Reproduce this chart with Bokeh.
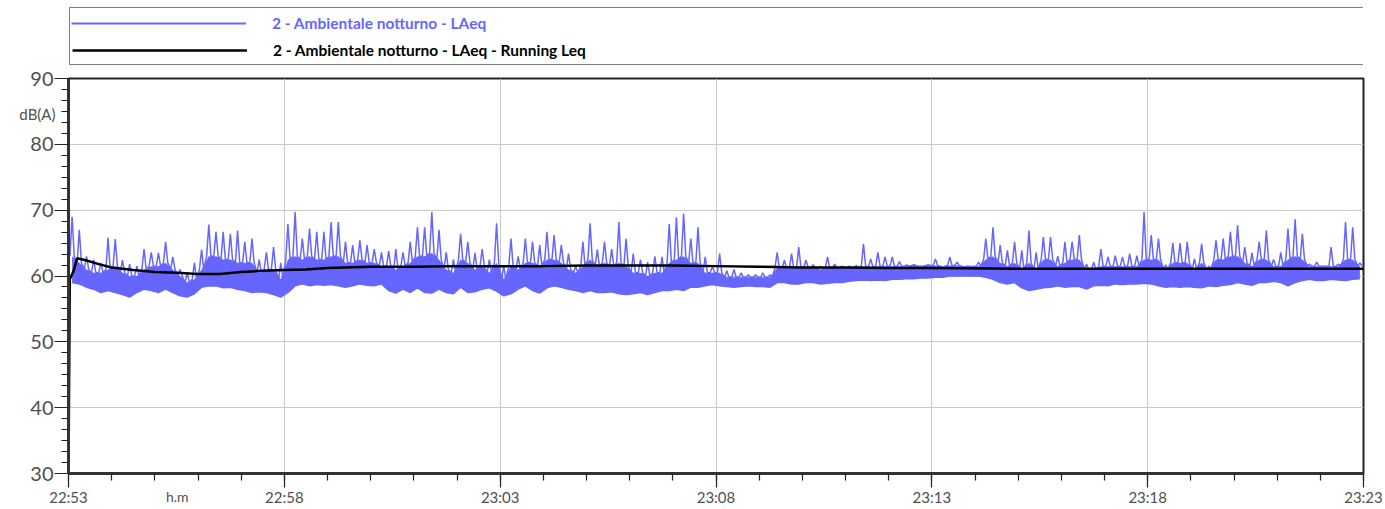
from bokeh.plotting import figure
from bokeh.models import (Range1d, SingleIntervalTicker, FixedTicker, LinearAxis,
                          Legend, LegendItem, GridBox)
from bokeh.embed import file_html
from bokeh.resources import INLINE

# ---------------- data ----------------
tick_labels = ["22:53", "22:58", "23:03", "23:08", "23:13", "23:18", "23:23"]
bin_seconds = 10  # one value per 10 s slice

# highest spike in each slice
peak = [
    69.0, 67.0, 63.0, 62.5, 62.0, 65.8,
    65.6, 62.4, 61.8, 61.5, 64.1, 63.6,
    63.5, 65.2, 62.9, 61.0, 60.5, 62.0,
    64.0, 67.8, 66.7, 66.7, 66.4, 66.9,
    65.2, 65.7, 62.5, 63.6, 64.4, 62.0,
    67.9, 69.7, 65.7, 67.2, 66.7, 66.7,
    68.2, 68.2, 65.2, 64.7, 65.4, 64.7,
    64.1, 63.6, 63.8, 64.1, 63.6, 65.2,
    67.4, 67.4, 69.7, 67.0, 63.6, 62.5,
    66.4, 65.2, 63.5, 64.1, 62.5, 68.0,
    61.5, 65.7, 63.0, 65.7, 65.2, 64.7,
    66.7, 66.2, 64.7, 63.4, 61.5, 65.2,
    68.0, 64.0, 65.2, 64.1, 68.2, 65.7,
    63.4, 62.5, 62.1, 63.0, 62.9, 67.9,
    68.9, 69.5, 65.7, 67.4, 62.9, 61.5,
    63.4, 60.8, 61.0, 60.5, 60.2, 60.2,
    60.5, 60.2, 63.6, 62.4, 63.4, 64.4,
    62.4, 61.7, 61.5, 62.9, 61.8, 61.5,
    61.5, 61.6, 64.9, 62.6, 63.6, 62.9,
    62.9, 62.2, 61.7, 61.7, 61.5, 61.7,
    62.6, 61.3, 62.9, 62.1, 61.3, 61.4,
    62.1, 65.7, 67.4, 64.7, 63.9, 65.2,
    63.9, 66.9, 63.6, 65.9, 65.9, 63.0,
    65.2, 65.2, 66.2, 61.8, 62.1, 64.1,
    62.9, 63.1, 62.9, 63.4, 63.1, 69.7,
    66.2, 65.7, 61.7, 65.0, 65.0, 65.2,
    62.6, 64.9, 61.5, 65.4, 65.7, 66.7,
    67.7, 64.4, 63.5, 65.2, 66.9, 62.5,
    63.6, 67.2, 68.6, 66.4, 61.8, 62.1,
    61.5, 64.4, 61.8, 68.2, 67.4, 62.0,
]

# top of the dense part of the trace in each slice
body = [
    63.0, 62.0, 61.0, 60.5, 60.5, 61.0,
    61.5, 60.5, 60.0, 60.0, 61.0, 61.5,
    61.5, 62.0, 61.0, 60.0, 59.0, 59.5,
    61.0, 63.0, 63.0, 62.5, 62.5, 62.0,
    62.0, 62.0, 60.5, 61.0, 61.0, 59.5,
    62.5, 63.0, 62.5, 63.0, 62.5, 62.5,
    63.0, 63.0, 62.0, 62.0, 62.5, 62.0,
    62.0, 61.5, 61.5, 61.0, 61.5, 62.0,
    63.0, 63.0, 63.5, 62.5, 61.0, 60.5,
    62.5, 62.0, 61.0, 61.5, 60.5, 62.0,
    59.5, 61.5, 61.0, 62.0, 62.0, 61.5,
    62.5, 62.5, 62.0, 61.0, 60.5, 61.5,
    62.5, 61.5, 62.0, 61.5, 62.0, 61.5,
    60.5, 60.5, 60.0, 60.5, 60.5, 62.0,
    62.5, 63.0, 62.0, 62.0, 60.5, 60.5,
    60.5, 59.8, 59.8, 59.8, 59.8, 59.8,
    59.8, 59.8, 61.2, 61.2, 61.2, 61.3,
    61.3, 61.3, 61.0, 61.2, 61.2, 61.2,
    61.3, 61.3, 61.5, 61.4, 61.5, 61.5,
    61.5, 61.5, 61.5, 61.6, 61.5, 61.6,
    61.6, 61.5, 61.6, 61.6, 61.5, 61.5,
    61.5, 62.5, 63.0, 62.0, 61.5, 62.0,
    61.0, 62.0, 61.0, 62.5, 62.5, 61.5,
    62.0, 62.5, 62.5, 61.0, 61.0, 61.5,
    61.5, 61.5, 61.5, 61.5, 61.5, 62.5,
    62.5, 62.5, 61.0, 62.0, 62.0, 62.0,
    61.0, 62.0, 61.0, 62.5, 62.5, 63.0,
    63.0, 62.0, 61.5, 62.5, 62.5, 61.5,
    61.5, 62.5, 63.0, 62.5, 61.5, 61.5,
    61.5, 61.5, 61.5, 62.5, 62.5, 61.5,
]

# lowest value in each slice
floor = [
    59.0, 58.8, 58.3, 58.0, 57.5, 57.8,
    57.5, 57.2, 56.8, 57.5, 58.0, 57.8,
    57.5, 58.0, 57.5, 57.0, 56.8, 57.3,
    58.3, 58.5, 58.5, 58.2, 58.3, 58.0,
    57.8, 57.5, 57.6, 57.5, 57.2, 56.8,
    57.5, 58.5, 58.8, 58.5, 58.7, 58.6,
    58.7, 58.5, 58.3, 58.5, 58.8, 58.6,
    58.5, 58.8, 57.8, 57.4, 58.0, 57.5,
    58.2, 57.5, 57.4, 58.0, 57.5, 57.3,
    58.3, 57.5, 57.6, 58.0, 58.2, 57.7,
    57.0, 57.3, 58.0, 58.5, 57.8, 57.4,
    58.2, 58.5, 58.3, 58.0, 57.8, 57.5,
    57.8, 57.5, 57.5, 57.6, 57.3, 57.2,
    57.3, 57.5, 57.2, 57.5, 57.8, 57.8,
    58.0, 57.8, 58.3, 58.3, 58.5, 58.7,
    58.5, 58.4, 58.3, 58.4, 58.5, 58.4,
    58.4, 58.3, 59.0, 59.0, 58.8, 58.8,
    59.0, 59.0, 58.8, 58.9, 59.0, 59.0,
    59.2, 59.3, 59.4, 59.3, 59.4, 59.3,
    59.5, 59.5, 59.6, 59.6, 59.7, 59.7,
    59.8, 59.8, 60.0, 60.0, 60.0, 60.0,
    60.0, 59.8, 59.5, 59.0, 58.8, 59.0,
    58.2, 57.8, 58.0, 58.2, 58.3, 58.5,
    58.3, 58.4, 58.4, 58.0, 58.5, 58.6,
    58.5, 58.8, 58.7, 58.8, 58.8, 58.9,
    58.8, 58.5, 58.3, 58.4, 58.3, 58.4,
    58.3, 58.2, 58.5, 58.4, 58.6, 58.7,
    59.0, 58.8, 58.6, 59.0, 59.0, 59.2,
    59.0, 58.5, 59.0, 59.3, 59.5, 59.3,
    59.3, 59.5, 59.4, 59.3, 59.5, 59.6,
]

leq_minutes = [0, 0.03, 0.12, 0.2, 0.4, 0.7, 1.0, 1.5, 2.0, 2.5, 3.0, 3.5, 4.0, 4.5,
               5.0, 5.5, 6.0, 7, 8, 9, 10, 11, 12, 13, 14, 15, 16, 17, 18, 19, 20,
               22, 24, 26, 28, 30]
leq_values = [30, 59.5, 60.8, 62.7, 62.4, 61.8, 61.3, 60.9, 60.6, 60.5, 60.3, 60.3,
              60.6, 60.8, 60.9, 61.0, 61.2, 61.4, 61.4, 61.5, 61.5, 61.5, 61.6, 61.6,
              61.6, 61.5, 61.4, 61.3, 61.3, 61.2, 61.2, 61.1, 61.1, 61.1, 61.1, 61.1]

series_names = ["2 - Ambientale notturno - LAeq",
                "2 - Ambientale notturno - LAeq - Running Leq"]
y_unit = "dB(A)"
y_unit_at = 84.6
x_unit = "h.m"
x_unit_at = 2.52

# ---------------- build ----------------
BLUE = "#6666ff"
TXT = "#505050"
band_x = [(i + 0.5) * bin_seconds / 60.0 for i in range(len(floor))]

spike_x, spike_y = [], []
for i, (b, hi) in enumerate(zip(body, peak)):
    t0 = i * bin_seconds / 60.0
    spike_x += [t0 + 2 / 60.0, t0 + 5 / 60.0, t0 + 8 / 60.0]
    spike_y += [b, hi, b]

W = 1385
LEFT, RIGHT = 68, 22
TOP, BOTTOM = 12, 32
FRAME_H = 398
H = TOP + FRAME_H + BOTTOM
frame_w = W - LEFT - RIGHT

# ---------------- main plot ----------------
p = figure(width=W, height=H, x_range=Range1d(0, 30), y_range=Range1d(30, 90),
           output_backend="svg", toolbar_location=None,
           min_border_left=LEFT, min_border_right=RIGHT,
           min_border_top=TOP, min_border_bottom=BOTTOM,
           background_fill_color="white", border_fill_color="white")

xt = SingleIntervalTicker(interval=5, num_minor_ticks=5)
yt = SingleIntervalTicker(interval=10, num_minor_ticks=6)
p.xaxis[0].ticker = xt
p.yaxis[0].ticker = yt
p.xgrid[0].ticker = xt
p.ygrid[0].ticker = yt
for g in (p.xgrid[0], p.ygrid[0]):
    g.grid_line_color = "#c8c8c8"
    g.grid_line_width = 1

p.xaxis[0].major_label_overrides = {i * 5: lab for i, lab in enumerate(tick_labels)}

for ax in (p.xaxis[0], p.yaxis[0]):
    ax.axis_line_color = "#333333"
    ax.axis_line_width = 3
    ax.major_tick_in = 0
    ax.minor_tick_in = 0
    ax.major_tick_line_color = "#222222"
    ax.minor_tick_line_color = "#222222"
    ax.major_tick_line_width = 1.2
    ax.minor_tick_line_width = 1.2
    ax.major_label_text_font = "Lato"
    ax.major_label_text_color = TXT

p.xaxis[0].major_tick_out = 14
p.xaxis[0].minor_tick_out = 7
p.xaxis[0].major_label_text_font_size = "15px"
p.xaxis[0].major_label_standoff = 0
p.yaxis[0].major_tick_out = 14
p.yaxis[0].minor_tick_out = 7
p.yaxis[0].major_label_text_font_size = "20px"
p.yaxis[0].major_label_standoff = 1

p.outline_line_color = "#222222"
p.outline_line_width = 2

p.varea(x=band_x, y1=floor, y2=body, fill_color=BLUE)
p.line(band_x, floor, line_color=BLUE, line_width=1.5)
p.line(spike_x, spike_y, line_color=BLUE, line_width=1.5)
p.line(leq_minutes, leq_values, line_color="black", line_width=2.5)

# ---------- transparent overlay with the same frame: unit labels ----------
ov = figure(width=W, height=H, x_range=p.x_range, y_range=p.y_range,
            output_backend="svg", toolbar_location=None, title=None,
            x_axis_location=None, y_axis_location=None,
            min_border_left=LEFT, min_border_right=RIGHT,
            min_border_top=TOP, min_border_bottom=BOTTOM,
            background_fill_alpha=0, border_fill_alpha=0, outline_line_color=None)
ov.grid.visible = False

y_unit_axis = LinearAxis(ticker=FixedTicker(ticks=[y_unit_at]),
                         major_label_overrides={y_unit_at: y_unit},
                         axis_line_color=None, major_tick_line_color=None,
                         minor_tick_line_color=None, major_tick_out=0, major_tick_in=0,
                         major_label_standoff=13, major_label_text_font="Lato",
                         major_label_text_font_size="15px", major_label_text_color=TXT)
ov.add_layout(y_unit_axis, "left")
x_unit_axis = LinearAxis(ticker=FixedTicker(ticks=[x_unit_at]),
                         major_label_overrides={x_unit_at: x_unit},
                         axis_line_color=None, major_tick_line_color=None,
                         minor_tick_line_color=None, major_tick_out=0, major_tick_in=0,
                         major_label_standoff=14, major_label_text_font="Lato",
                         major_label_text_font_size="14px", major_label_text_color=TXT)
ov.add_layout(x_unit_axis, "below")

# ---------------- legend strip ----------------
PAD, SP, ROW, GW, STAND = 2, 4, 24, 175, 26
label_w = frame_w - 2 * PAD - GW - STAND - 2
leg_h = 2 * PAD + 2 * ROW + SP
LG_TOP, LG_BOTTOM = 4, 0
LG_FRAME = leg_h + 6
lg = figure(width=W, height=LG_TOP + LG_FRAME + LG_BOTTOM,
            x_range=Range1d(0, 1), y_range=Range1d(0, 1),
            output_backend="svg", toolbar_location=None, title=None,
            x_axis_location=None, y_axis_location=None,
            min_border_left=LEFT, min_border_right=RIGHT,
            min_border_top=LG_TOP, min_border_bottom=LG_BOTTOM,
            background_fill_color="white", border_fill_color="white",
            outline_line_color=None)
lg.grid.visible = False
# sample glyphs for the legend (their data lies outside this strip's ranges)
leg_blue = lg.line(band_x, floor, line_color=BLUE, line_width=2)
leg_black = lg.line(leq_minutes, leq_values, line_color="black", line_width=2.5)

leg1 = Legend(items=[LegendItem(label=series_names[0], renderers=[leg_blue]),
                     LegendItem(label=series_names[1], renderers=[leg_black])],
              location=(1, 1), margin=0, padding=PAD, spacing=SP,
              glyph_width=GW, glyph_height=ROW, label_height=ROW, label_width=label_w,
              label_standoff=STAND, border_line_color="black", border_line_width=1,
              background_fill_color="white", background_fill_alpha=1.0,
              label_text_font="Lato", label_text_font_size="15.5px",
              label_text_font_style="bold", label_text_color="black")
lg.add_layout(leg1)
leg2_h = ROW
leg2 = Legend(items=[LegendItem(label=series_names[0], renderers=[leg_blue])],
              location=(1 + PAD, 1 + leg_h - PAD - leg2_h), margin=0,
              padding=0, glyph_width=GW, glyph_height=ROW, label_height=ROW,
              label_width=label_w, label_standoff=STAND, border_line_color=None,
              background_fill_color="white", background_fill_alpha=1.0,
              label_text_font="Lato", label_text_font_size="15.5px",
              label_text_font_style="bold", label_text_color=BLUE)
lg.add_layout(leg2)

layout = GridBox(children=[(lg, 0, 0), (p, 1, 0), (ov, 1, 0)])
open("out.html", "w").write(file_html(layout, INLINE))
